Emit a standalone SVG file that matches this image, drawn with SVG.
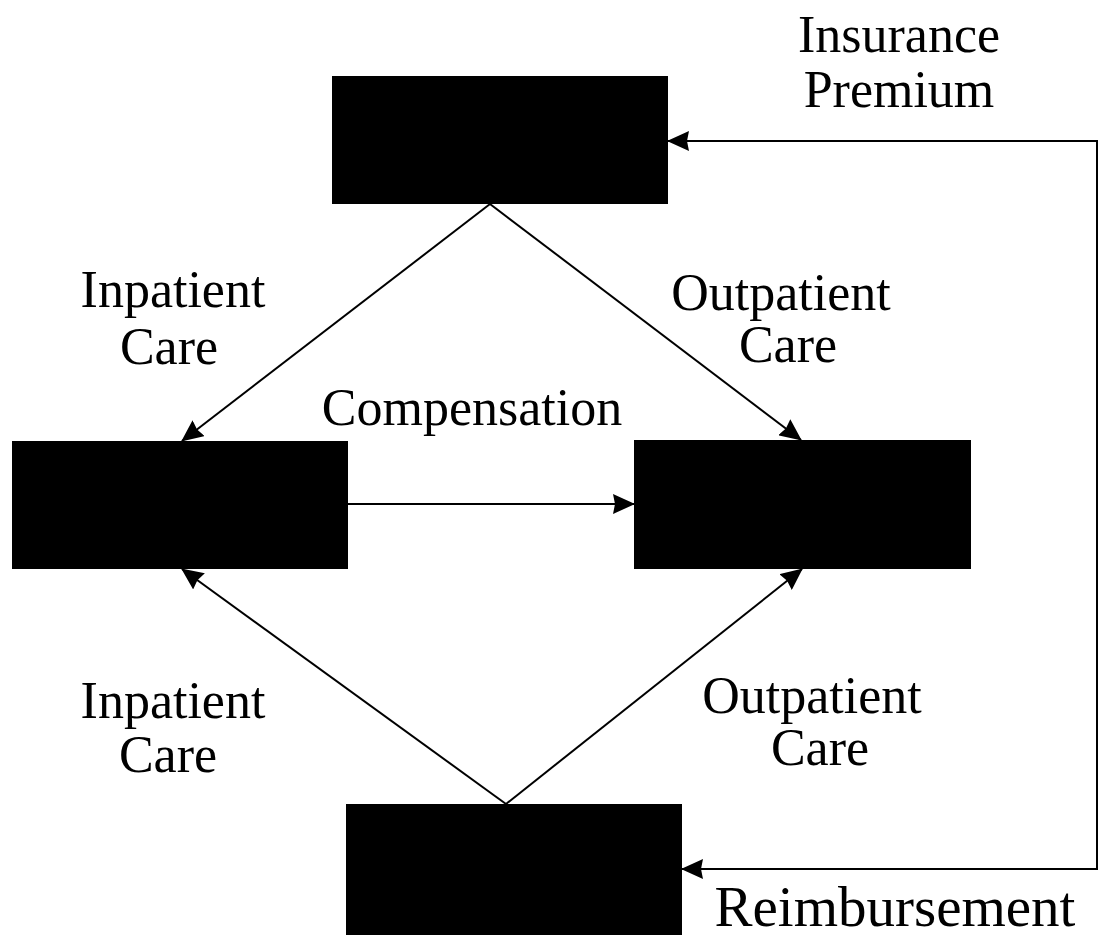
<svg xmlns="http://www.w3.org/2000/svg" width="1103" height="940" viewBox="0 0 1103 940">
<style>
.box{fill:#000;stroke:none}
.ln{fill:none;stroke:#000;stroke-width:2}
.lb{font-family:"Liberation Serif","Times New Roman",serif;font-size:52px;fill:#000;text-anchor:middle}
</style>
<defs>
<marker id="ah" markerUnits="userSpaceOnUse" markerWidth="22" markerHeight="20" viewBox="0 0 22 20" refX="21" refY="10" orient="auto-start-reverse">
<path d="M0,0 L22,10 L0,20 L2,10 z" fill="#000"/>
</marker>
</defs>
<rect width="1103" height="940" fill="#fff"/>
<g id="connectors">
<path class="ln" d="M682,869 H1097 V141 H668" marker-start="url(#ah)" marker-end="url(#ah)"/>
<line class="ln" x1="490" y1="204" x2="182" y2="441" marker-end="url(#ah)"/>
<line class="ln" x1="490" y1="204" x2="801" y2="440" marker-end="url(#ah)"/>
<line class="ln" x1="506" y1="804" x2="182" y2="569" marker-end="url(#ah)"/>
<line class="ln" x1="506" y1="804" x2="802" y2="569" marker-end="url(#ah)"/>
<line class="ln" x1="348" y1="504" x2="634" y2="504" marker-end="url(#ah)"/>
</g>
<g id="insurer"><rect class="box" x="332" y="76" width="336" height="128"/></g>
<g id="hospital-left"><rect class="box" x="12" y="441" width="336" height="128"/></g>
<g id="clinic-right"><rect class="box" x="634" y="440" width="337" height="129"/></g>
<g id="patient"><rect class="box" x="346" y="804" width="336" height="131"/></g>
<g id="labels">
<text class="lb" x="899" y="52">Insurance</text>
<text class="lb" x="899" y="107">Premium</text>
<text class="lb" x="173" y="307">Inpatient</text>
<text class="lb" x="169" y="364">Care</text>
<text class="lb" x="781" y="310">Outpatient</text>
<text class="lb" x="788" y="362">Care</text>
<text class="lb" x="472" y="425">Compensation</text>
<text class="lb" x="173" y="718">Inpatient</text>
<text class="lb" x="168" y="772">Care</text>
<text class="lb" x="812" y="713">Outpatient</text>
<text class="lb" x="820" y="765">Care</text>
<text class="lb" x="895" y="926" style="font-size:57px">Reimbursement</text>
</g>
</svg>
